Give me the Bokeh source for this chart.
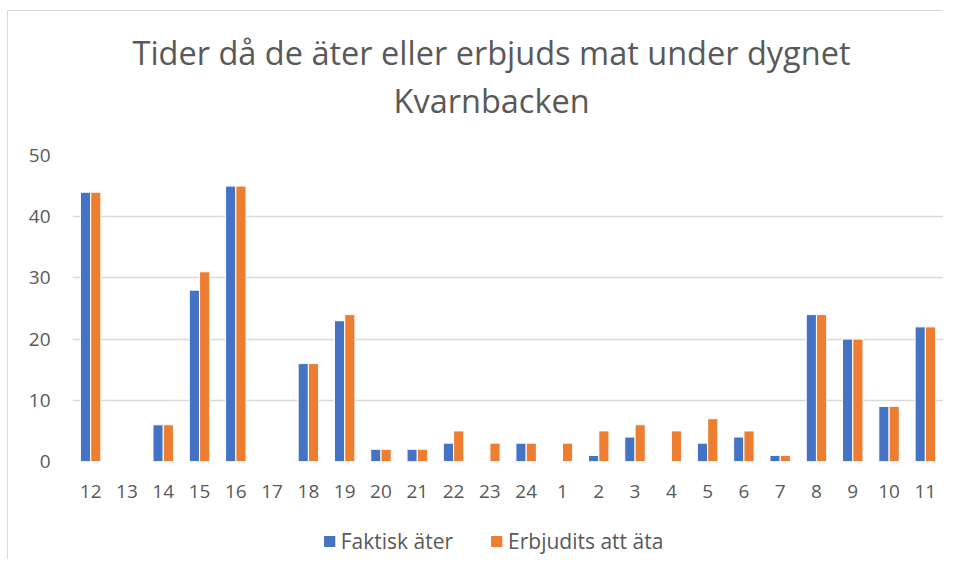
from bokeh.plotting import figure
from bokeh.layouts import column
from bokeh.models import ColumnDataSource, FactorRange, Range1d, Legend, LegendItem, FixedTicker, Title
from bokeh.transform import dodge
from bokeh.embed import file_html
from bokeh.resources import INLINE

hours = ["12", "13", "14", "15", "16", "17", "18", "19", "20", "21", "22", "23",
         "24", "1", "2", "3", "4", "5", "6", "7", "8", "9", "10", "11"]
faktisk = [44, 0, 6, 28, 45, 0, 16, 23, 2, 2, 3, 0, 3, 0, 1, 4, 0, 3, 4, 1, 24, 20, 9, 22]
erbjudits = [44, 0, 6, 31, 45, 0, 16, 24, 2, 2, 5, 3, 3, 3, 5, 6, 5, 7, 5, 1, 24, 20, 9, 22]
y_ticks = [0, 10, 20, 30, 40, 50]
title_line1 = "Tider då de äter eller erbjuds mat under dygnet"
title_line2 = "Kvarnbacken"
series_names = ["Faktisk äter", "Erbjudits att äta"]

BLUE = "#4472C4"
ORANGE = "#ED7D31"
TXT = "#595959"
GRID = "#D9D9D9"
FONT = "Open Sans"

src = ColumnDataSource(data=dict(hour=hours, faktisk=faktisk, erbjudits=erbjudits))

p = figure(width=935, height=512, x_range=FactorRange(factors=hours), y_range=Range1d(0, 50),
           output_backend="svg", toolbar_location=None,
           min_border_left=64, min_border_right=0, min_border_top=144, min_border_bottom=62)
p.outline_line_color = None
p.background_fill_color = "white"
p.border_fill_color = "white"

r1 = p.vbar(x=dodge("hour", -0.142, range=p.x_range), top="faktisk", width=0.28, source=src,
            fill_color=BLUE, line_color="white", line_width=1)
r2 = p.vbar(x=dodge("hour", 0.142, range=p.x_range), top="erbjudits", width=0.28, source=src,
            fill_color=ORANGE, line_color="white", line_width=1)

# Title panels stack outward from the frame: spacer, line 2, line 1
p.add_layout(Title(text=" ", text_font_size="1px", standoff=29), "above")
for txt, so, off in ((title_line2, 2, 321), (title_line1, 0, 60)):
    p.add_layout(Title(text=txt, align="left", offset=off, text_font=FONT, text_font_size="32.5px",
                       text_font_style="normal", text_color=TXT, standoff=so), "above")

p.yaxis.ticker = FixedTicker(ticks=y_ticks)
for ax in (p.xaxis[0], p.yaxis[0]):
    ax.axis_line_color = None
    ax.major_tick_line_color = None
    ax.minor_tick_line_color = None
    ax.major_tick_out = 0
    ax.major_tick_in = 0
    ax.minor_tick_out = 0
    ax.major_label_text_font = FONT
    ax.major_label_text_color = TXT
    ax.major_label_text_font_size = "19px"
p.yaxis.major_label_standoff = 22
p.xaxis.major_label_standoff = 23
p.xgrid.grid_line_color = None
p.ygrid.grid_line_color = GRID
p.ygrid.grid_line_width = 1.5

# Legend strip below the chart (same series; zero-width bars, so no marks show here)
lg = figure(width=905, height=36, output_backend="svg", toolbar_location=None,
            x_range=FactorRange(factors=hours), y_range=Range1d(1000, 1001),
            min_border_left=0, min_border_right=0, min_border_top=0, min_border_bottom=0,
            x_axis_type=None, y_axis_type=None)
lg.outline_line_color = None
lg.grid.grid_line_color = None
lg.background_fill_color = "white"
lg.border_fill_color = "white"
d1 = lg.vbar(x="hour", top="faktisk", width=0, source=src, fill_color=BLUE, line_color=None)
d2 = lg.vbar(x="hour", top="erbjudits", width=0, source=src, fill_color=ORANGE, line_color=None)
legend = Legend(items=[LegendItem(label=series_names[0], renderers=[d1]),
                       LegendItem(label=series_names[1], renderers=[d2])],
                orientation="horizontal", location="center",
                label_text_font=FONT, label_text_font_size="21px", label_text_color=TXT,
                glyph_width=14, glyph_height=14, label_standoff=5, spacing=36,
                border_line_color=None, background_fill_alpha=0, padding=2, margin=0)
lg.add_layout(legend, "center")

layout = column(p, lg, spacing=0, styles={
    "margin-left": "7px", "margin-top": "10px",
    "border-left": "1px solid #D9D9D9", "border-top": "1px solid #D9D9D9"})

open("out.html", "w").write(file_html(layout, INLINE))
